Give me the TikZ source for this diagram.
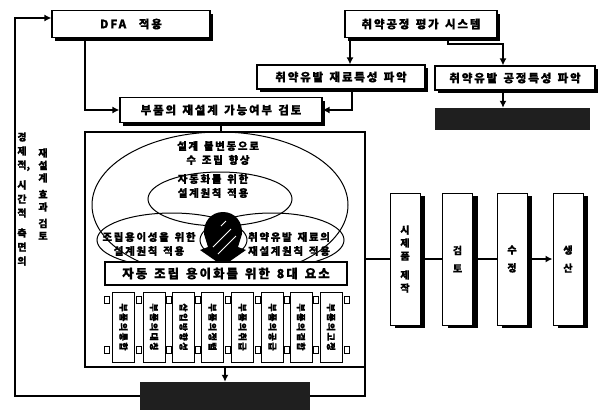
\documentclass[tikz,border=0pt]{standalone}
\usepackage{fontspec}
\setmainfont{Noto Sans CJK KR}[LetterSpace=16,BoldFeatures={FakeBold=0.8}]
\usetikzlibrary{arrows.meta,shadows}
\newcommand{\myfs}[2]{\fontsize{#1}{#2}\selectfont\bfseries}
\newcommand{\wg}{\hspace{0.55em}}
\begin{document}
\begin{tikzpicture}[x=1pt,y=-1pt,
  ln/.style={line width=1.6pt},
  arr/.style={line width=1.6pt,-{Latex[length=7pt,width=7pt]}},
  sbox/.style={draw,line width=1.2pt,fill=white,inner sep=0pt,font=\myfs{11.5}{13},
     general shadow={fill=black,shadow xshift=3pt,shadow yshift=-3pt}},
  pbox/.style={draw,line width=1pt,fill=white,inner sep=0pt,minimum width=30pt,minimum height=132pt,
     align=center,font=\myfs{10}{14},
     general shadow={fill=black,shadow xshift=5pt,shadow yshift=-3pt}},
  vbox/.style={draw,line width=1pt,fill=white,inner sep=0pt,minimum width=22pt,minimum height=70pt},
  vtxt/.style={rotate=-90,font=\myfs{9}{10},inner sep=0pt},
  blk/.style={fill=black!88,inner sep=0pt},
  sq/.style={draw,line width=0.9pt,fill=white,inner sep=0pt,minimum width=5pt,minimum height=7pt},
  el/.style={line width=1pt},
  etxt/.style={align=center,font=\myfs{10.5}{14},inner sep=0pt},
  ltxt/.style={align=center,font=\myfs{10}{14},inner sep=0pt},
]
\useasboundingbox (0,0) rectangle (612,413);

% top boxes
\node[sbox,minimum width=158pt,minimum height=27pt] (dfa) at (131,24) {DFA\wg\wg 적용};
\node[sbox,minimum width=152pt,minimum height=27pt] (sys) at (421,24) {취약공정\wg 평가\wg 시스템};
\node[sbox,minimum width=168pt,minimum height=24pt] (mat) at (341,77) {취약유발\wg 재료특성\wg 파악};
\node[sbox,minimum width=160pt,minimum height=24pt] (proc) at (515,78) {취약유발\wg 공정특성\wg 파악};
\node[sbox,minimum width=202pt,minimum height=25pt] (rev) at (221,110) {부품의\wg 재설계\wg 가능여부\wg 검토};
\node[blk,minimum width=155pt,minimum height=22pt] (blk1) at (512,119) {};

% frame
\node[draw,line width=1.2pt,minimum width=280pt,minimum height=235pt,inner sep=0pt] (frame) at (225,249.5) {};

% ellipses
\draw[el] (220,205) ellipse [x radius=128, y radius=73];
\draw[el] (220,199) ellipse [x radius=72, y radius=27];
\draw[el] (172,240) ellipse [x radius=75, y radius=27];
\draw[el] (272,240) ellipse [x radius=72, y radius=27];

% black arrow in the overlap
\fill[black] (223,212) .. controls (235,212) and (243,222) .. (242,234) -- (238,247) -- (246,250) -- (223,266) -- (200,250) -- (208,247) -- (204,234) .. controls (203,222) and (211,212) .. (223,212) -- cycle;
\draw[white,line width=0.8pt] (213,247) -- (231,229);
\draw[white,line width=0.8pt] (218,254) -- (236,236);
\draw[white,line width=0.8pt] (221,226) -- (226,221);

\node[etxt] (e1) at (218,153) {설계\wg 불변동으로\\수\wg 조립\wg 향상};
\node[etxt] (e2) at (213,186) {자동화를\wg 위한\\설계원칙\wg 적용};
\node[etxt] (e3) at (149,244) {조립용이성을\wg 위한\\설계원칙\wg 적용};
\node[etxt] (e4) at (289,244) {취약유발\wg 재료의\\재설계원칙\wg 적용};

% 8 elements
\node[draw,line width=1.2pt,fill=white,minimum width=242pt,minimum height=23pt,inner sep=0pt,font=\myfs{12.5}{14}] (eight) at (226,273.5) {자동\wg 조립\wg 용이화를\wg 위한\wg 8대\wg 요소};

\foreach \x/\t [count=\i] in {123.5/부품의통합,154/부품의대칭,183.5/삽입방향성,212.5/부품의정렬,242.5/부품의취급,272.5/부품의공급,301/부품의결합,331/부품의고정}{
  \node[vbox] (v\i) at (\x,327) {};
  \node[vtxt] at (v\i) {\t};
}
\foreach \x in {107,138.75,168.75,198,227.5,257.5,286.75,316,347}{
  \node[sq] at (\x,300) {};
  \node[sq] at (\x,350) {};
}

% bottom black box
\node[blk,minimum width=170pt,minimum height=28pt] (bot) at (225,396) {};

% left texts
\node[ltxt] (lt1) at (22,199) {경\\제\\적\rlap{,}\\[6pt]시\\간\\적\\[6pt]측\\면\\의};
\node[ltxt,font=\myfs{10}{12.5}] (lt2) at (43,194) {재\\설\\계\\[4pt]효\\과\\[4pt]검\\토};

% process boxes
\node[pbox,font=\myfs{10}{13}] (p1) at (405,259) {시\\제\\품\\[6pt]제\\작};
\node[pbox] (p2) at (457.5,259) {검\\[4pt]토};
\node[pbox] (p3) at (512,259) {수\\[4pt]정};
\node[pbox] (p4) at (568,259) {생\\[4pt]산};

% coordinates
\coordinate (xa) at (503,0);
\coordinate (xb) at (448,0);
\coordinate (xc) at (350,0);
\coordinate (xd) at (352,0);
\coordinate (xe) at (85,0);
\coordinate (j1) at (503,44);
\coordinate (lt) at (15,18);
\coordinate (rc) at (365,259);

% connectors
\draw[arr] (sys.south -| xc) -- (mat.north -| xc);
\draw[arr] (sys.south -| xb) |- (j1) -- (proc.north -| j1);
\draw[arr] (proc.south -| xa) -- (blk1.north -| xa);
\draw[arr] (mat.south -| xd) |- (rev.east);
\draw[arr] (dfa.south -| xe) |- (rev.west);
\draw[ln] (rev.south) -- (rev.south |- frame.north);
\draw[arr] (frame.south -| bot.north) -- (bot.north);
\draw[arr] (bot.west) -| (lt) -- (dfa.west |- lt);
\draw[ln] (bot.east) -| (rc) -- (p1.west);
\draw[ln] (p1.east) -- (p2.west);
\draw[ln] (p2.east) -- (p3.west);
\draw[arr] (p3.east) -- (p4.west);
\end{tikzpicture}
\end{document}
